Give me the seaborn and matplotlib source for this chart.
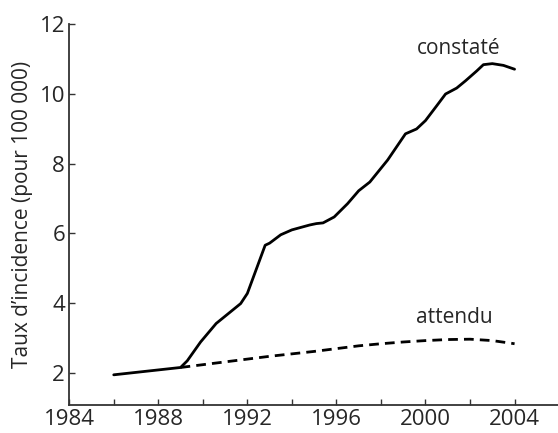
import numpy as np
import pandas as pd
import matplotlib
matplotlib.use("Agg")
import matplotlib.pyplot as plt
import seaborn as sns

# valeurs
annees_constate = [1986.0, 1987.0, 1988.0, 1989.0, 1989.3, 1989.9, 1990.6, 1991.7, 1992.0,
                   1992.8, 1993.0, 1993.5, 1994.0, 1994.8, 1995.1, 1995.4, 1995.9, 1996.5,
                   1997.0, 1997.5, 1998.3, 1999.1, 1999.6, 2000.0, 2000.5, 2000.9,
                   2001.4, 2001.8, 2002.3, 2002.6, 2003.0, 2003.5, 2004.0]
taux_constate = [1.95, 2.02, 2.09, 2.16, 2.35, 2.89, 3.42, 3.99, 4.28,
                 5.66, 5.72, 5.96, 6.10, 6.24, 6.28, 6.30, 6.47, 6.85,
                 7.22, 7.47, 8.10, 8.85, 8.99, 9.23, 9.65, 9.99,
                 10.16, 10.37, 10.65, 10.83, 10.86, 10.81, 10.70]

annees_attendu = [1989.0, 1990.0, 1991.0, 1992.0, 1993.0, 1994.0, 1995.0, 1996.0,
                  1997.0, 1998.0, 1999.0, 2000.0, 2001.0, 2002.0, 2003.0, 2004.0]
taux_attendu = [2.16, 2.24, 2.32, 2.40, 2.48, 2.55, 2.62, 2.70,
                2.78, 2.84, 2.89, 2.93, 2.96, 2.97, 2.93, 2.84]

x_ticks = [1984, 1988, 1992, 1996, 2000, 2004]
x_minor = [1986, 1990, 1994, 1998, 2002]
y_ticks = [2, 4, 6, 8, 10, 12]

sns.set_style("ticks")
plt.rcParams['font.family'] = ['Open Sans', 'DejaVu Sans']

df_c = pd.DataFrame({'annee': annees_constate, 'taux': taux_constate})
df_a = pd.DataFrame({'annee': annees_attendu, 'taux': taux_attendu})

fig = plt.figure(figsize=(5.58, 4.33), dpi=100)
ax = fig.add_axes([0.124, 0.065, 0.876, 0.880])

sns.lineplot(data=df_a, x='annee', y='taux', ax=ax, color='black',
             linewidth=2.0, linestyle=(0, (3.5, 2.2)))
sns.lineplot(data=df_c, x='annee', y='taux', ax=ax, color='black',
             linewidth=2.0)

ax.text(2001.5, 11.3, "constaté", fontsize=15, ha='center', va='center')
ax.text(2001.3, 3.6, "attendu", fontsize=15, ha='center', va='center')

ax.set_xlim(1984, 2005.95)
ax.set_ylim(1.09, 12)
ax.set_xticks(x_ticks)
ax.set_xticks(x_minor, minor=True)
ax.set_yticks(y_ticks)
ax.tick_params(which='both', direction='in', length=4.5, width=1.0,
               color='#333333', labelsize=16, pad=3)
ax.set_xlabel("")
ax.set_ylabel("Taux d’incidence (pour 100 000)", fontsize=15, labelpad=5)

for side in ['top', 'right']:
    ax.spines[side].set_visible(False)
for side in ['left', 'bottom']:
    ax.spines[side].set_linewidth(1.3)
    ax.spines[side].set_color('#333333')

fig.savefig("out.png", dpi=100)
